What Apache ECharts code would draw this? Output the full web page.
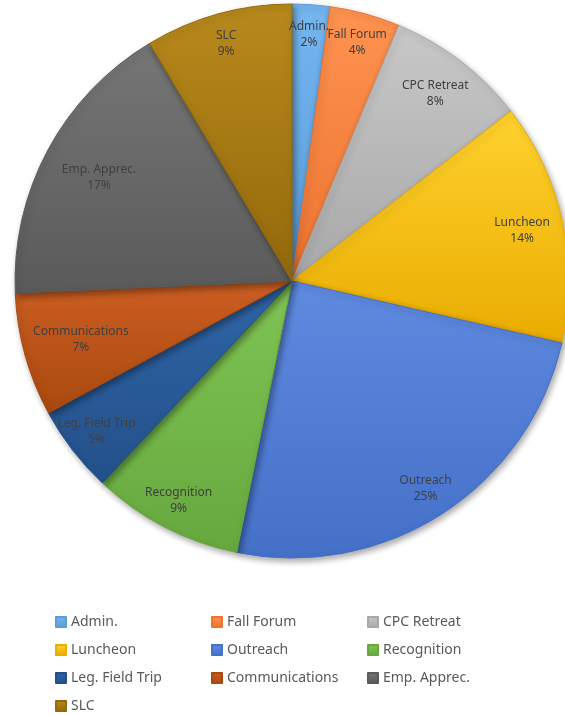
<!DOCTYPE html>
<html><head><meta charset="utf-8">
<script src="https://cdn.jsdelivr.net/npm/echarts@6/dist/echarts.min.js"></script>
<style>html,body{margin:0;padding:0;background:#fff;}#c{width:565px;height:715px;}</style>
</head><body><div id="c"></div>
<script>
const categories = ['Admin.', 'Fall Forum', 'CPC Retreat', 'Luncheon', 'Outreach', 'Recognition', 'Leg. Field Trip', 'Communications', 'Emp. Apprec.', 'SLC'];
const values = [2.2, 4.1, 8.2, 14.1, 24.6, 8.8, 5.1, 7.2, 17.1, 8.6];
const topColors = ['#74B6F0', '#FF9350', '#C8C8C8', '#FFD22E', '#5F8AE0', '#80C454', '#2F65A6', '#CC5E22', '#767676', '#B8891C'];
const bottomColors = ['#5A9BD8', '#EC7330', '#A8A8A8', '#E9AC00', '#4470C8', '#66A83E', '#23508A', '#A9490F', '#5A5A5A', '#93690A'];
// label placement tiers, as Excel's "best fit" put them
const innerLabelNames = ['Communications', 'Emp. Apprec.'];
const midLabelNames = ['CPC Retreat', 'Luncheon'];

const chart = echarts.init(document.getElementById('c'));
const grad = (i) => new echarts.graphic.LinearGradient(0, 0, 0, 1, [
  {offset: 0, color: topColors[i]}, {offset: 1, color: bottomColors[i]}]);
const mainData = categories.map((n, i) => ({
  name: n, value: values[i],
  itemStyle: {color: grad(i), borderColor: bottomColors[i]}
}));
const tierOf = (n) => innerLabelNames.includes(n) ? 'inner' : (midLabelNames.includes(n) ? 'mid' : 'outer');
const labelData = (tier) => categories.map((n, i) => ({
  name: n, value: values[i],
  label: {show: tierOf(n) === tier}
}));
const R = 277;
const labelStyle = {
  show: true, position: 'inside',
  formatter: '{b}\n{d}%', color: '#404040', fontSize: 12, lineHeight: 16,
  fontFamily: 'Noto Sans', overflow: 'none'
};
const labelSeries = (r0, tier) => ({
  type: 'pie', center: [292, 281], radius: [r0, R],
  startAngle: 90, clockwise: true, silent: true, percentPrecision: 0,
  avoidLabelOverlap: false,
  data: labelData(tier),
  itemStyle: {color: 'rgba(0,0,0,0)', borderWidth: 0},
  label: labelStyle,
  labelLine: {show: false},
  labelLayout: {hideOverlap: false}
});
chart.setOption({
  animation: false,
  legend: {
    data: categories,
    left: 50, top: 608, width: 480,
    orient: 'horizontal',
    itemWidth: 10, itemHeight: 10, itemGap: 10,
    icon: 'rect',
    textStyle: {color: '#595959', fontSize: 14, fontFamily: 'Noto Sans', width: 130, lineHeight: 18},
    selectedMode: false
  },
  series: [
    {
      type: 'pie', center: [292, 281], radius: [0, R],
      startAngle: 90, clockwise: true, silent: true,
      data: mainData,
      label: {show: false}, labelLine: {show: false},
      itemStyle: {borderWidth: 1, shadowBlur: 6, shadowOffsetX: 2, shadowOffsetY: 3, shadowColor: 'rgba(0,0,0,0.35)'}
    },
    labelSeries(R * 0.76, 'outer'),
    labelSeries(R * 0.68, 'mid'),
    labelSeries(R * 0.56, 'inner')
  ]
});
</script></body></html>
